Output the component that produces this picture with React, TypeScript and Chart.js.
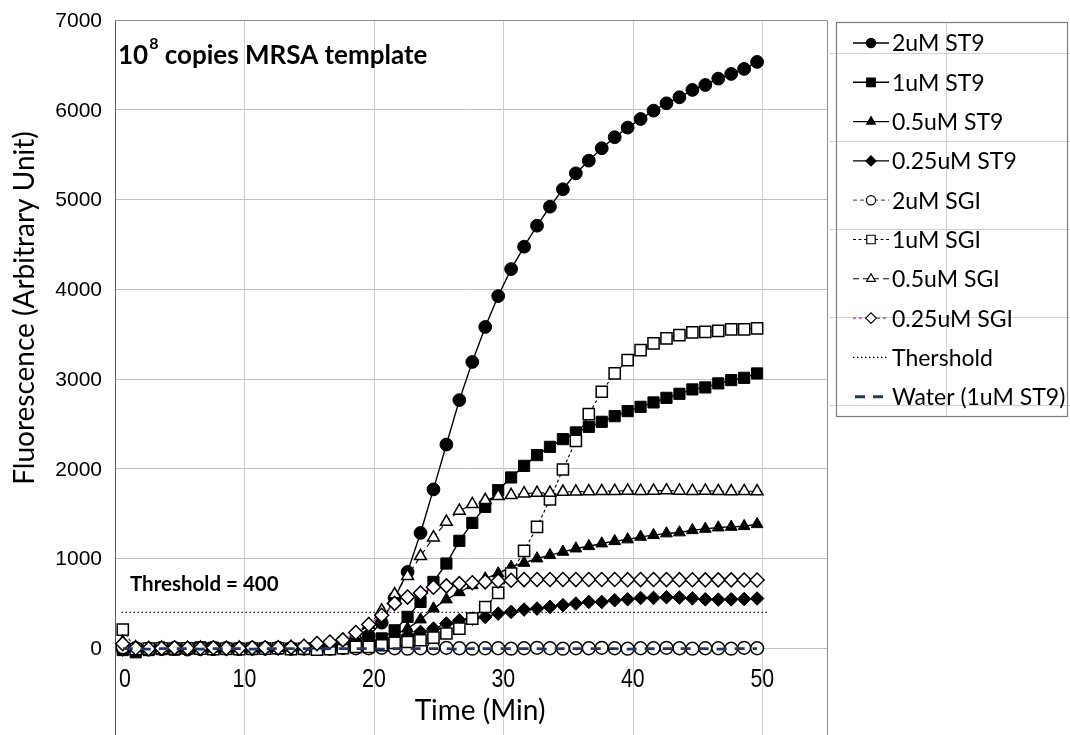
import React, { useEffect, useRef } from 'react';
import { Chart, registerables } from 'chart.js';
import { drawPoint } from 'chart.js/helpers';

Chart.register(...registerables);

// Sampling times (min)
const times = [
  0.6, 1.6, 2.6, 3.6, 4.6, 5.6, 6.6, 7.6, 8.6, 9.6,
  10.6, 11.6, 12.6, 13.6, 14.6, 15.6, 16.6, 17.6, 18.6, 19.6,
  20.6, 21.6, 22.6, 23.6, 24.6, 25.6, 26.6, 27.6, 28.6, 29.6,
  30.6, 31.6, 32.6, 33.6, 34.6, 35.6, 36.6, 37.6, 38.6, 39.6,
  40.6, 41.6, 42.6, 43.6, 44.6, 45.6, 46.6, 47.6, 48.6, 49.6,
];

// Fluorescence readings (arbitrary units)
const st9_2uM = [
  -10, -20, -15, -10, -10, -15, -10, -10, -5, -10,
  -5, -5, 0, 0, -5, 0, 5, 15, 50, 140,
  285, 560, 850, 1285, 1770, 2270, 2765, 3190, 3580, 3924,
  4225, 4474, 4708, 4920, 5114, 5292, 5433, 5571, 5694, 5801,
  5897, 5990, 6072, 6139, 6221, 6276, 6347, 6399, 6455, 6533,
];
const st9_1uM = [
  -20, -45, -20, -10, -15, 0, 10, 5, -10, -5,
  -10, -5, 0, -5, -10, -10, -5, 10, 30, 60,
  110, 200, 350, 516, 739, 944, 1197, 1397, 1575, 1761,
  1903, 2032, 2152, 2244, 2330, 2405, 2467, 2523, 2586, 2642,
  2690, 2739, 2790, 2835, 2884, 2906, 2951, 2988, 3013, 3062,
];
const st9_05uM = [
  -10, -15, -10, -5, -10, -5, -10, -5, -5, -10,
  -5, 0, -5, -5, 0, 0, 0, 5, 20, 50,
  90, 150, 219, 320, 442, 543, 624, 702, 777, 833,
  906, 951, 1000, 1037, 1074, 1111, 1137, 1167, 1193, 1212,
  1241, 1260, 1279, 1290, 1315, 1330, 1345, 1352, 1360, 1382,
];
const st9_025uM = [
  -15, -10, -10, -10, -5, -10, -10, -5, -10, -5,
  -10, -5, -5, -5, 0, -5, 0, 5, 15, 40,
  70, 105, 140, 182, 219, 275, 312, 330, 349, 386,
  405, 431, 442, 461, 480, 498, 516, 516, 535, 546,
  560, 561, 568, 565, 556, 545, 542, 545, 548, 554,
];
const sgi_2uM = [
  10, 0, -5, 5, 0, -5, 0, 5, 0, -5,
  0, 0, 5, -5, 0, 0, -5, 5, 0, 0,
  5, 0, -5, 0, 0, 5, 0, -5, 0, 0,
  -5, 0, 5, 0, -5, 0, 0, 5, 0, -5,
  0, 0, 5, 0, -5, 0, 0, -5, 5, 0,
];
const sgi_1uM = [
  208, -10, -5, 0, -5, 0, -5, -10, -5, -10,
  -5, -5, 0, -10, -5, -15, -10, 0, 15, 15,
  33, 59, 70, 89, 119, 164, 219, 331, 460, 617,
  833, 1085, 1352, 1658, 1992, 2311, 2609, 2858, 3062, 3211,
  3322, 3397, 3452, 3489, 3519, 3526, 3537, 3553, 3553, 3564,
];
const sgi_05uM = [
  70, 10, 0, 5, 0, 0, 5, 0, 0, 5,
  0, 0, 5, 10, 20, 35, 55, 80, 150, 260,
  420, 600, 803, 1026, 1234, 1408, 1531, 1605, 1650, 1695,
  1706, 1724, 1731, 1731, 1742, 1745, 1748, 1750, 1752, 1755,
  1752, 1755, 1758, 1755, 1752, 1755, 1750, 1748, 1750, 1748,
];
const sgi_025uM = [
  50, 0, -5, 0, 5, 0, 0, 5, 0, 0,
  5, 5, 5, 10, 22, 52, 70, 93, 175, 265,
  368, 500, 570, 615, 680, 695, 720, 730, 740, 750,
  758, 765, 766, 766, 766, 765, 766, 766, 766, 764,
  765, 766, 765, 764, 763, 762, 762, 762, 760, 760,
];
const water_1uM = [
  -5, -5, -10, -5, -5, -5, -10, -5, -5, -5,
  -10, -5, -5, -5, -5, -10, -5, -5, -5, -5,
  -10, -5, -5, -5, -5, -5, -10, -5, -5, -5,
  -5, -5, -5, -10, -5, -5, -5, -5, -5, -10,
  -5, -5, -5, -5, -5, -5, -10, -5, -5, -5,
];
const thresholdTimes = [0.5, 50.5];
const thresholdValues = [400, 400];

const xTickValues = [0, 10, 20, 30, 40, 50];
const yTickValues = [0, 1000, 2000, 3000, 4000, 5000, 6000, 7000];
const chartTitleBase = '10';
const chartTitleSup = '8';
const chartTitleRest = ' copies MRSA template';
const thresholdNote = 'Threshold = 400';
const xTitle = 'Time (Min)';
const yTitle = 'Fluorescence (Arbitrary Unit)';

type SeriesStyle = {
  label: string;
  xs: number[];
  ys: number[];
  color: string;
  width: number;
  dash: number[];
  marker: string | false;
  radius: number;
  legendRadius: number;
  fill: string;
};

const series: SeriesStyle[] = [
  { label: '2uM ST9', xs: times, ys: st9_2uM, color: '#000000', width: 1.4, dash: [], marker: 'circle', radius: 6.4, legendRadius: 4.6, fill: '#000000' },
  { label: '1uM ST9', xs: times, ys: st9_1uM, color: '#000000', width: 1.4, dash: [], marker: 'rect', radius: 7.9, legendRadius: 6, fill: '#000000' },
  { label: '0.5uM ST9', xs: times, ys: st9_05uM, color: '#000000', width: 1.4, dash: [], marker: 'triangle', radius: 6.8, legendRadius: 5, fill: '#000000' },
  { label: '0.25uM ST9', xs: times, ys: st9_025uM, color: '#000000', width: 1.4, dash: [], marker: 'rectRot', radius: 6.8, legendRadius: 5, fill: '#000000' },
  { label: '2uM SGI', xs: times, ys: sgi_2uM, color: '#4a6688', width: 1.3, dash: [4, 3], marker: 'circle', radius: 6.4, legendRadius: 4.6, fill: '#ffffff' },
  { label: '1uM SGI', xs: times, ys: sgi_1uM, color: '#000000', width: 1.1, dash: [3, 2.5], marker: 'rect', radius: 7.9, legendRadius: 6, fill: '#ffffff' },
  { label: '0.5uM SGI', xs: times, ys: sgi_05uM, color: '#000000', width: 1.1, dash: [6, 4], marker: 'triangle', radius: 6.8, legendRadius: 5, fill: '#ffffff' },
  { label: '0.25uM SGI', xs: times, ys: sgi_025uM, color: '#c020c0', width: 1.1, dash: [3, 3], marker: 'rectRot', radius: 7, legendRadius: 5.3, fill: '#ffffff' },
  { label: 'Thershold', xs: thresholdTimes, ys: thresholdValues, color: '#000000', width: 1.3, dash: [1.4, 2.6], marker: false, radius: 0, legendRadius: 0, fill: '#000000' },
  { label: 'Water (1uM ST9)', xs: times, ys: water_1uM, color: '#1f3864', width: 2.8, dash: [10, 8], marker: false, radius: 0, legendRadius: 0, fill: '#1f3864' },
];

const LATO = 'Lato, "Open Sans", "Liberation Sans", sans-serif';
const ARIAL = '"Liberation Sans", Arial, sans-serif';

const decorPlugin = {
  id: 'decor',
  beforeDatasetsDraw(chart: any) {
    const { ctx, chartArea, scales } = chart;
    const xs = scales.x;
    ctx.save();
    // vertical grid lines
    ctx.strokeStyle = '#cfcfcf';
    ctx.lineWidth = 1;
    ctx.beginPath();
    xTickValues.forEach((v) => {
      if (v === 0) return;
      const px = Math.round(xs.getPixelForValue(v)) + 0.5;
      ctx.moveTo(px, chartArea.top);
      ctx.lineTo(px, chartArea.bottom);
    });
    ctx.stroke();
    ctx.restore();
  },
  afterDraw(chart: any) {
    const { ctx, chartArea, scales } = chart;
    const xs = scales.x;
    const ys = scales.y;
    ctx.save();

    // top and right frame of the plot area
    ctx.strokeStyle = '#8c8c8c';
    ctx.lineWidth = 1;
    ctx.beginPath();
    ctx.moveTo(chartArea.left, Math.round(chartArea.top) + 0.5);
    ctx.lineTo(Math.round(chartArea.right) + 0.5, Math.round(chartArea.top) + 0.5);
    ctx.lineTo(Math.round(chartArea.right) + 0.5, chartArea.bottom);
    ctx.stroke();

    // y tick labels
    ctx.fillStyle = '#000';
    ctx.font = `21px ${ARIAL}`;
    ctx.textAlign = 'right';
    ctx.textBaseline = 'middle';
    yTickValues.forEach((v) => {
      ctx.fillText(String(v), chartArea.left - 13, ys.getPixelForValue(v) + 1);
    });

    // x tick labels, sitting just under the zero line
    ctx.font = `26px ${ARIAL}`;
    ctx.textAlign = 'center';
    ctx.textBaseline = 'alphabetic';
    const zeroY = ys.getPixelForValue(0);
    const squeeze = 0.82;
    xTickValues.forEach((v) => {
      const label = String(v);
      const w = ctx.measureText(label).width * squeeze;
      const px = Math.max(xs.getPixelForValue(v), chartArea.left + w / 2 + 4);
      ctx.save();
      ctx.translate(px, zeroY + 39);
      ctx.scale(squeeze, 1);
      ctx.fillText(label, 0, 0);
      ctx.restore();
    });

    // axis titles
    ctx.font = `28px ${LATO}`;
    ctx.textAlign = 'center';
    ctx.textBaseline = 'middle';
    ctx.fillText(xTitle, 480, 711);
    ctx.save();
    ctx.translate(25, 308);
    ctx.rotate(-Math.PI / 2);
    ctx.font = `28px ${LATO}`;
    ctx.fillText(yTitle, 0, 0);
    ctx.restore();

    // chart title with superscript exponent
    ctx.textAlign = 'left';
    ctx.textBaseline = 'alphabetic';
    let tx = chartArea.left + 3;
    const ty = 64;
    ctx.font = `bold 26px ${LATO}`;
    ctx.fillText(chartTitleBase, tx, ty);
    tx += ctx.measureText(chartTitleBase).width + 1;
    ctx.font = `bold 16px ${LATO}`;
    ctx.fillText(chartTitleSup, tx, ty - 15);
    tx += ctx.measureText(chartTitleSup).width;
    ctx.font = `bold 26px ${LATO}`;
    ctx.fillText(chartTitleRest, tx, ty);

    // threshold annotation
    ctx.font = `bold 20.5px ${LATO}`;
    ctx.fillText(thresholdNote, chartArea.left + 15, ys.getPixelForValue(400) - 21);

    // legend box
    const bx = 836.5, by = 22.5, bw = 231, bh = 394;
    ctx.fillStyle = '#ffffff';
    ctx.fillRect(bx, by, bw, bh);
    ctx.strokeStyle = '#d2d2d2';
    ctx.lineWidth = 1;
    ctx.beginPath();
    [53.5, 141.5, 229.5, 317.5, 405.5].forEach((gy) => {
      ctx.moveTo(830, gy);
      ctx.lineTo(1070, gy);
    });
    ctx.moveTo(946.5, by);
    ctx.lineTo(946.5, by + bh);
    ctx.stroke();
    ctx.strokeStyle = '#7f7f7f';
    ctx.lineWidth = 1.2;
    ctx.strokeRect(bx, by, bw, bh);

    const rowH = 39.3;
    series.forEach((s, i) => {
      const cy = 43 + i * rowH;
      const isWater = s.label.startsWith('Water');
      ctx.save();
      ctx.strokeStyle = s.color;
      ctx.lineWidth = isWater ? 3 : s.width;
      ctx.setLineDash(s.dash);
      ctx.beginPath();
      ctx.moveTo(isWater ? 855 : 853, cy);
      ctx.lineTo(isWater ? 888 : 889, cy);
      ctx.stroke();
      ctx.restore();
      if (s.marker) {
        ctx.save();
        ctx.fillStyle = s.fill;
        ctx.strokeStyle = '#000';
        ctx.lineWidth = 1.2;
        drawPoint(ctx, { pointStyle: s.marker as any, radius: s.legendRadius, rotation: 0, borderWidth: 1.2 }, 871, cy);
        ctx.restore();
      }
      ctx.fillStyle = '#000';
      ctx.font = `23px ${LATO}`;
      ctx.textAlign = 'left';
      ctx.textBaseline = 'middle';
      ctx.fillText(s.label, 892, cy + 1);
    });

    ctx.restore();
  },
};

export default function App() {
  const canvasRef = useRef<HTMLCanvasElement | null>(null);

  useEffect(() => {
    const canvas = canvasRef.current;
    if (!canvas) return;
    const datasets = series.map((s, i) => ({
      label: s.label,
      data: s.xs.map((x, k) => ({ x, y: s.ys[k] })),
      borderColor: s.color,
      borderWidth: s.width,
      borderDash: s.dash,
      pointStyle: s.marker || 'circle',
      pointRadius: s.radius,
      pointHoverRadius: s.radius,
      pointBackgroundColor: s.fill,
      pointBorderColor: '#000000',
      pointBorderWidth: s.fill === '#ffffff' ? 1.5 : 1,
      tension: 0,
      fill: false,
      order: series.length - i,
    }));

    const chart = new Chart(canvas, {
      type: 'line',
      data: { datasets },
      plugins: [decorPlugin],
      options: {
        responsive: false,
        animation: false,
        devicePixelRatio: 1,
        events: [],
        layout: { autoPadding: false, padding: { top: 20, right: 243, bottom: 0, left: 0 } },
        plugins: {
          legend: { display: false },
          tooltip: { enabled: false },
          title: { display: false },
        },
        scales: {
          x: {
            type: 'linear',
            display: false,
            min: 0,
            max: 55,
          },
          y: {
            type: 'linear',
            min: -1000,
            max: 7000,
            ticks: { display: false, stepSize: 1000 },
            border: { display: true, color: '#595959', width: 1 },
            grid: {
              drawTicks: false,
              color: (ctx: any) => (ctx.tick?.value === 7000 ? '#8c8c8c' : '#c0c0c0'),
              lineWidth: 1,
            },
            afterFit: (scale: any) => {
              scale.width = 115;
            },
          },
        },
      },
    });

    return () => chart.destroy();
  }, []);

  return (
    <div style={{ position: 'fixed', left: 0, top: 0, width: 1070, height: 738, background: '#fff' }}>
      <canvas ref={canvasRef} width={1070} height={738} style={{ display: 'block' }} />
    </div>
  );
}
